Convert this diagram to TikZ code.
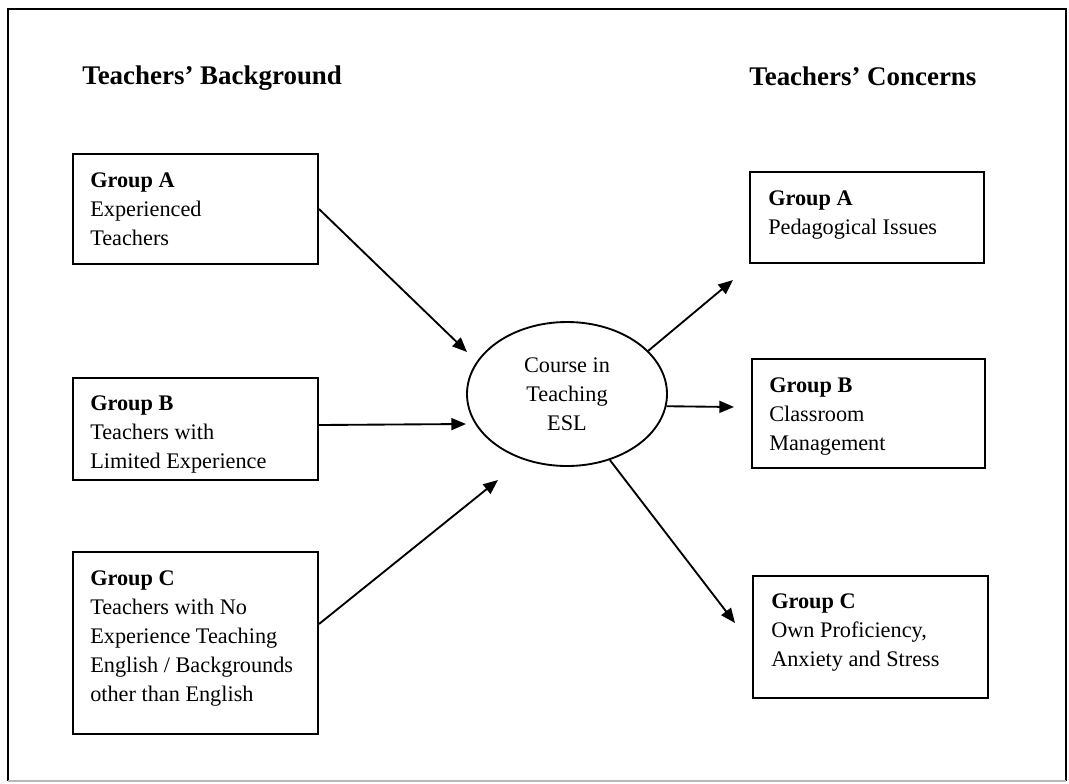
\documentclass[tikz,border=0pt]{standalone}
\usepackage{fontspec}
\setmainfont{Liberation Serif}
\usetikzlibrary{arrows.meta,shapes.geometric,calc}
\begin{document}
\begin{tikzpicture}[x=0.75pt,y=-0.75pt,
  box/.style={draw, line width=1.5pt, rectangle, inner sep=0pt, anchor=north west},
  txt/.style={anchor=north west, inner sep=0pt, align=left, font=\fontsize{16.7}{21.75}\selectfont},
  ttl/.style={anchor=base west, inner sep=0pt, font=\fontsize{20.2}{24}\selectfont\bfseries},
  conn/.style={line width=1.4pt, -{Triangle[length=11pt,width=9pt]}},
  frame/.style={line width=1.5pt}]
\useasboundingbox (0,0) rectangle (1069,783);
% outer frame
\draw[frame] (8,781) -- (8,9) -- (1066,9) -- (1066,781);
\draw[frame, gray!55] (8,781) -- (1066,781);

% titles
\node[ttl] (tBack) at (82,84) {Teachers’ Background};
\node[ttl] (tConc) at (749,85) {Teachers’ Concerns};

% left boxes
\node[box, minimum width=183.75pt, minimum height=82.5pt] (bA) at (72,153) {};
\node[box, minimum width=183.75pt, minimum height=76.5pt] (bB) at (72,377) {};
\node[box, minimum width=183.75pt, minimum height=136.5pt] (bC) at (72,551) {};
\node[txt] (xA) at (90,172) {\textbf{Group A}\\Experienced\\Teachers};
\node[txt] (xB) at (90,395) {\textbf{Group B}\\Teachers with\\Limited Experience};
\node[txt] (xC) at (90,570) {\textbf{Group C}\\Teachers with No\\Experience Teaching\\English / Backgrounds\\other than English};

% right boxes
\node[box, minimum width=175.5pt, minimum height=68.25pt] (rA) at (749,171) {};
\node[box, minimum width=174.75pt, minimum height=81.75pt] (rB) at (751,358) {};
\node[box, minimum width=176.25pt, minimum height=91.5pt] (rC) at (752,575) {};
\node[txt] (yA) at (768,190) {\textbf{Group A}\\Pedagogical Issues};
\node[txt] (yB) at (769,377) {\textbf{Group B}\\Classroom\\Management};
\node[txt] (yC) at (771,593) {\textbf{Group C}\\Own Proficiency,\\Anxiety and Stress};

% centre ellipse
\node[draw, ellipse, line width=1.4pt, minimum width=150pt, minimum height=108pt,
      inner sep=0pt, align=center, font=\fontsize{16.7}{21.75}\selectfont] (ell) at (567,394)
      {Course in\\Teaching\\ESL};

% arrow tips
\coordinate (pA) at (467,352);
\coordinate (pB) at (466,424);
\coordinate (pC) at (498,480);
\coordinate (qA) at (733,280);
\coordinate (qB) at (734,407);
\coordinate (qC) at (735,623);

\draw[conn] (bA.east) -- (pA);
\draw[conn] ($(bB.east)+(0,-4)$) -- (pB);
\draw[conn] ($(bC.east)+(0,-19)$) -- (pC);
\draw[conn] (ell.28) -- (qA);
\draw[conn] (ell.-7) -- (qB);
\draw[conn] (ell.-57) -- (qC);
\end{tikzpicture}
\end{document}
